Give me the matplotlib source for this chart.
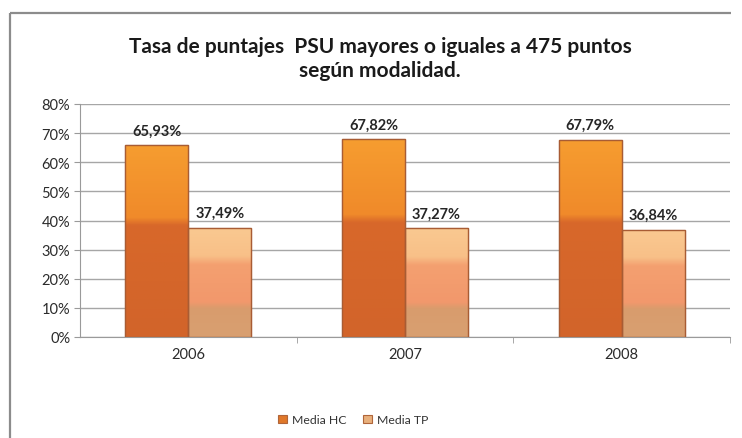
import matplotlib
matplotlib.use("Agg")
import matplotlib.pyplot as plt
import numpy as np
from matplotlib.patches import Rectangle
from matplotlib.lines import Line2D
from matplotlib.colors import LinearSegmentedColormap

years = ["2006", "2007", "2008"]
media_hc = [65.93, 67.82, 67.79]
media_tp = [37.49, 37.27, 36.84]
series_names = ["Media HC", "Media TP"]
yticks = [0, 10, 20, 30, 40, 50, 60, 70, 80]
title = "Tasa de puntajes  PSU mayores o iguales a 475 puntos\nsegún modalidad."

FONT = ["Lato", "DejaVu Sans"]
plt.rcParams["font.family"] = FONT

fig = plt.figure(figsize=(7.42, 4.39), dpi=100)
fig.patch.set_facecolor("white")
# outer chart frame (only left and top edges are visible)
fx, fy = 10/742, 1 - 14/439
fig.lines.append(Line2D([fx, fx], [0.0, fy], transform=fig.transFigure,
                        color="#8c8c8c", linewidth=1.6, solid_capstyle="butt"))
fig.lines.append(Line2D([fx, 0.985], [fy, fy], transform=fig.transFigure,
                        color="#8c8c8c", linewidth=1.6, solid_capstyle="butt"))

ax = fig.add_axes([80/742, 1-338/439, 650/742, (338-105)/439])
ax.set_xlim(-0.5, 2.5)
ax.set_ylim(0, 80)
ax.set_yticks(yticks)
ax.set_yticklabels([f"{v}%" for v in yticks], fontsize=10.5, color="#2b2b2b")
ax.yaxis.grid(True, color="#a6a6a6", linewidth=1.0)
ax.set_axisbelow(True)
for s in ["top", "right"]:
    ax.spines[s].set_visible(False)
for s in ["left", "bottom"]:
    ax.spines[s].set_color("#9a9a9a")
ax.tick_params(axis="y", length=4, color="#9a9a9a", pad=3)
x = np.arange(len(years))
ax.set_xticks(x)
ax.set_xticklabels(years, fontsize=10.5, color="#2b2b2b")
ax.set_xticks([0.5, 1.5, 2.5], minor=True)
ax.tick_params(axis="x", which="major", length=0, pad=7)
ax.tick_params(axis="x", which="minor", length=4, color="#9a9a9a")

w = 0.29
hc_cmap = LinearSegmentedColormap.from_list("hc", [(0, "#d2642a"), (0.58, "#d8682a"), (0.62, "#f08a2a"), (1, "#f69d30")])
tp_cmap = LinearSegmentedColormap.from_list("tp", [(0, "#d8a071"), (0.26, "#d99c6d"), (0.32, "#f2986c"), (0.66, "#f4a070"), (0.74, "#f8c088"), (1, "#fac991")])

def draw(xs, vals, cmap, label, color):
    bars = ax.bar(xs, vals, width=w, color=color, edgecolor="#b0653a", linewidth=0.8, label=label, zorder=2)
    grad = np.linspace(0, 1, 256).reshape(-1, 1)
    for b in bars:
        x0, y0 = b.get_x(), b.get_y()
        im = ax.imshow(grad, cmap=cmap, origin="lower", aspect="auto",
                       extent=(x0, x0 + b.get_width(), y0, y0 + b.get_height()), zorder=2.5)
        im.set_clip_path(b)
        ax.add_patch(Rectangle((x0, y0), b.get_width(), b.get_height(), fill=False,
                               edgecolor="#a85c34", linewidth=1.0, zorder=3))
    for b, v in zip(bars, vals):
        ax.text(b.get_x() + b.get_width()/2, v + 2.6, f"{v:.2f}%".replace(".", ","),
                ha="center", va="bottom", fontsize=10.5, fontweight="bold", color="#262626", zorder=4)
    return bars

draw(x - w/2, media_hc, hc_cmap, series_names[0], "#e0782a")
draw(x + w/2, media_tp, tp_cmap, series_names[1], "#e8b07c")
ax.set_xlim(-0.5, 2.5)
ax.set_ylim(0, 80)

fig.text(0.512, 0.866, title, ha="center", va="center", fontsize=15, fontweight="bold",
         color="#1a1a1a", linespacing=1.25)

leg = ax.legend(loc="center", bbox_to_anchor=(0.42, -0.355), ncol=2, frameon=False,
                fontsize=8.8, handlelength=0.7, handleheight=0.7, handletextpad=0.4, columnspacing=1.4)
for t in leg.get_texts():
    t.set_color("#333333")

fig.savefig("out.png", dpi=100, facecolor="white")
